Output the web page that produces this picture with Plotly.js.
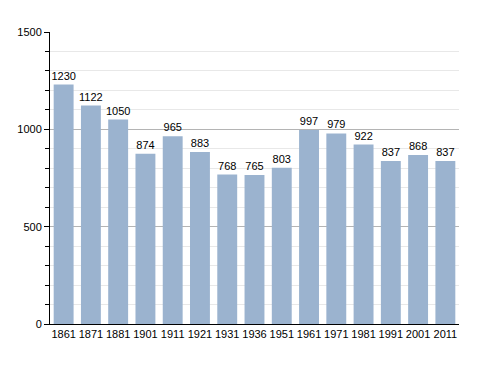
<!DOCTYPE html>
<html><head><meta charset="utf-8">
<script src="https://cdn.plot.ly/plotly-3.0.1.min.js"></script>
<style>body{margin:0}#c{width:488px;height:373px}</style>
</head><body><div id="c"></div>
<script>
const years = ['1861','1871','1881','1901','1911','1921','1931','1936','1951','1961','1971','1981','1991','2001','2011'];
const population = [1230,1122,1050,874,965,883,768,765,803,997,979,922,837,868,837];

Plotly.newPlot('c', [{
  type: 'bar', x: years, y: population,
  marker: {color: 'rgb(155,179,207)'},
  text: population.map(String), textposition: 'outside', cliponaxis: false,
  constraintext: 'none',
  textfont: {family: 'Liberation Sans, Arial, sans-serif', size: 11, color: '#000'},
  hoverinfo: 'none'
}], {
  width: 488, height: 373,
  margin: {l: 50, r: 29, t: 32, b: 49},
  paper_bgcolor: '#fff', plot_bgcolor: '#fff',
  bargap: 0.27,
  showlegend: false,
  font: {family: 'Liberation Sans, Arial, sans-serif', size: 11, color: '#000'},
  xaxis: {type: 'category', showline: true, linecolor: '#000', linewidth: 1,
          ticks: '', tickfont: {size: 11}, showgrid: false, fixedrange: true},
  yaxis: {range: [0, 1500], dtick: 500, showline: true, linecolor: '#000', linewidth: 1,
          ticks: 'outside', ticklen: 5, tickcolor: '#000', showgrid: true, gridcolor: '#b4b4b4',
          zeroline: false, tickfont: {size: 11},
          minor: {dtick: 100, ticks: 'outside', ticklen: 4, tickcolor: '#000', showgrid: true, gridcolor: '#e8e8e8'}}
}, {staticPlot: true});
</script></body></html>
